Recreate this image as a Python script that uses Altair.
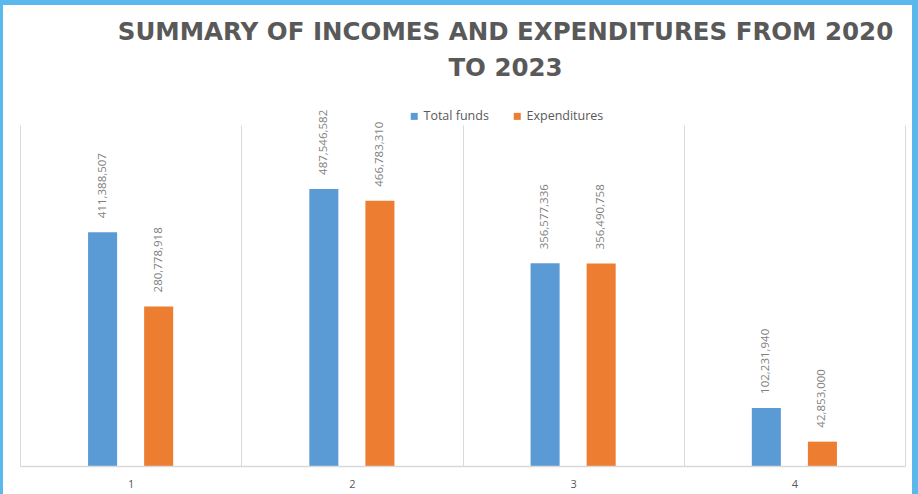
import altair as alt
import pandas as pd

periods = ["1", "2", "3", "4"]
series_names = ["Total funds", "Expenditures"]
total_funds = [411388507, 487546582, 356577336, 102231940]
expenditures = [280778918, 466783310, 356490758, 42853000]
colors = ["#5B9BD5", "#ED7D31"]

rows = []
for p, t, e in zip(periods, total_funds, expenditures):
    rows.append({"period": p, "series": series_names[0], "value": t, "label": f"{t:,}"})
    rows.append({"period": p, "series": series_names[1], "value": e, "label": f"{e:,}"})
df = pd.DataFrame(rows)

W, H = 885, 341

x_enc = alt.X(
    "period:N",
    sort=periods,
    scale=alt.Scale(paddingInner=0, paddingOuter=0),
    axis=alt.Axis(
        title=None, labelAngle=0, tickBand="extent", grid=True, gridColor="#d9d9d9",
        gridWidth=1, ticks=False, domainColor="#d9d9d9", domainWidth=1.5,
        labelColor="#595959", labelFontSize=11, labelFont="Open Sans",
        labelPadding=12, zindex=1,
    ),
)
# two empty slots either side centre the pair of bars inside each period
xo_enc = alt.XOffset("series:N",
                     scale=alt.Scale(domain=["_l"] + series_names + ["_r"],
                                     paddingInner=0.482, paddingOuter=0.214))
y_enc = alt.Y("value:Q", scale=alt.Scale(domain=[0, 600000000]), axis=None)

bg = alt.Chart(alt.Data(values=[{"a": 1}])).mark_rect(color="white").encode(
    x=alt.value(-17), x2=alt.value(W + 7), y=alt.value(-120), y2=alt.value(H + 28)
)

base = alt.Chart(df)

bars = base.mark_bar().encode(
    x=x_enc,
    xOffset=xo_enc,
    y=y_enc,
    color=alt.Color(
        "series:N",
        sort=series_names,
        scale=alt.Scale(domain=series_names, range=colors),
        legend=alt.Legend(
            orient="none", legendX=388, legendY=-15, direction="horizontal",
            title=None, symbolType="square", symbolSize=49, symbolStrokeWidth=0,
            labelFontSize=12.5, labelFont="Open Sans", labelColor="#595959",
            columnPadding=22, labelOffset=3,
        ),
    ),
)

labels = base.mark_text(
    angle=270, align="left", baseline="middle", dx=14,
    fontSize=11.5, font="Open Sans", color="#7f7f7f",
).encode(x=x_enc, xOffset=xo_enc, y=y_enc, text="label:N")

chart = alt.layer(bg, bars, labels).properties(
    width=W,
    height=H,
    padding={"left": 20, "top": 125, "right": 13, "bottom": 28},
    autosize=alt.AutoSizeParams(type="none"),
    background="#5BB8EC",
    title=alt.TitleParams(
        text=["SUMMARY OF INCOMES AND EXPENDITURES FROM 2020", "TO 2023"],
        anchor="middle", dx=43, dy=100, baseline="bottom", fontSize=24.5,
        font="DejaVu Sans", fontWeight="bold",
        color="#595959", lineHeight=36, frame="group", offset=0,
    ),
).configure_view(stroke=None)

chart.save("out.html", embed_options={"renderer": "svg", "actions": False})
